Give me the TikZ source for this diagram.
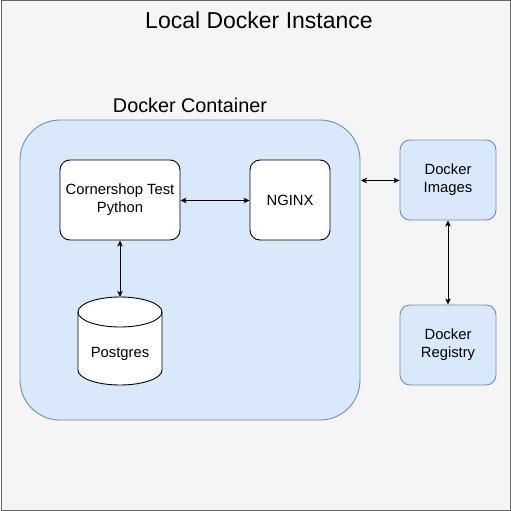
\documentclass[tikz,border=0pt]{standalone}
\usepackage{fontspec}
\setmainfont{Liberation Sans}
\usetikzlibrary{arrows.meta,shapes.geometric}
\definecolor{outerfill}{HTML}{F5F5F5}
\definecolor{outerline}{HTML}{666666}
\definecolor{bluefill}{HTML}{DAE8FC}
\definecolor{blueline}{HTML}{6C8EBF}
\tikzset{
  x=1pt,y=-1pt,
  boxfont/.style={font=\fontsize{14.8}{17.5}\selectfont},
  whitebox/.style={draw=black,fill=white,rounded corners=10pt,line width=0.9pt,minimum width=120pt,minimum height=80pt,align=center,boxfont,inner sep=0pt},
  bluebox/.style={draw=blueline,fill=bluefill,rounded corners=10pt,line width=0.9pt,minimum width=96pt,minimum height=80pt,align=center,boxfont,inner sep=0pt},
  biarrow/.style={{Stealth[length=6pt,width=5.5pt,inset=1.5pt]}-{Stealth[length=6pt,width=5.5pt,inset=1.5pt]},line width=0.9pt,black},
}
\begin{document}
\begin{tikzpicture}
\useasboundingbox (0,0) rectangle (511,511);
\node[draw=outerline,fill=outerfill,line width=1pt,minimum width=509pt,minimum height=509pt,inner sep=0pt] (outer) at (255.5,255.5) {};
\node[font=\fontsize{23}{27}\selectfont] (title) at (259,20.5) {Local Docker Instance};
\node[draw=blueline,fill=bluefill,rounded corners=40pt,line width=0.9pt,minimum width=340pt,minimum height=300pt,inner sep=0pt] (container) at (190,270) {};
\node[font=\fontsize{19.8}{24}\selectfont] (clabel) at (190,105) {Docker Container};
\node[whitebox] (app) at (120,200) {\raisebox{-1.5pt}{\begin{tabular}{@{}c@{}}Cornershop Test\\[0.5pt]Python\end{tabular}}};
\node[whitebox,minimum width=80pt] (nginx) at (290,200) {NGINX};
% cylinder
\fill[white] (78,312) -- (78,370) arc[x radius=42,y radius=15,start angle=180,end angle=0] -- (162,312) arc[x radius=42,y radius=15,start angle=0,end angle=-180] -- cycle;
\draw[line width=0.9pt] (78,312) -- (78,370) arc[x radius=42,y radius=15,start angle=180,end angle=0] -- (162,312);
\draw[line width=0.9pt] (120,312) ellipse[x radius=42,y radius=15];
\coordinate (dbtop) at (120,297);
\node[boxfont] (db) at (120,354) {Postgres};
\node[bluebox] (images) at (448,180) {\raisebox{-1.5pt}{\begin{tabular}{@{}c@{}}Docker\\[0.5pt]Images\end{tabular}}};
\node[bluebox] (registry) at (448,345) {\raisebox{-1.5pt}{\begin{tabular}{@{}c@{}}Docker\\[0.5pt]Registry\end{tabular}}};
\coordinate (contright) at (361,180.5);
\draw[biarrow] (app.east |- 0,200.5) -- (nginx.west |- 0,200.5);
\draw[biarrow] (app.south) -- (dbtop);
\draw[biarrow] (contright) -- (images.west |- contright);
\draw[biarrow] (images.south) -- (registry.north);
\end{tikzpicture}
\end{document}
